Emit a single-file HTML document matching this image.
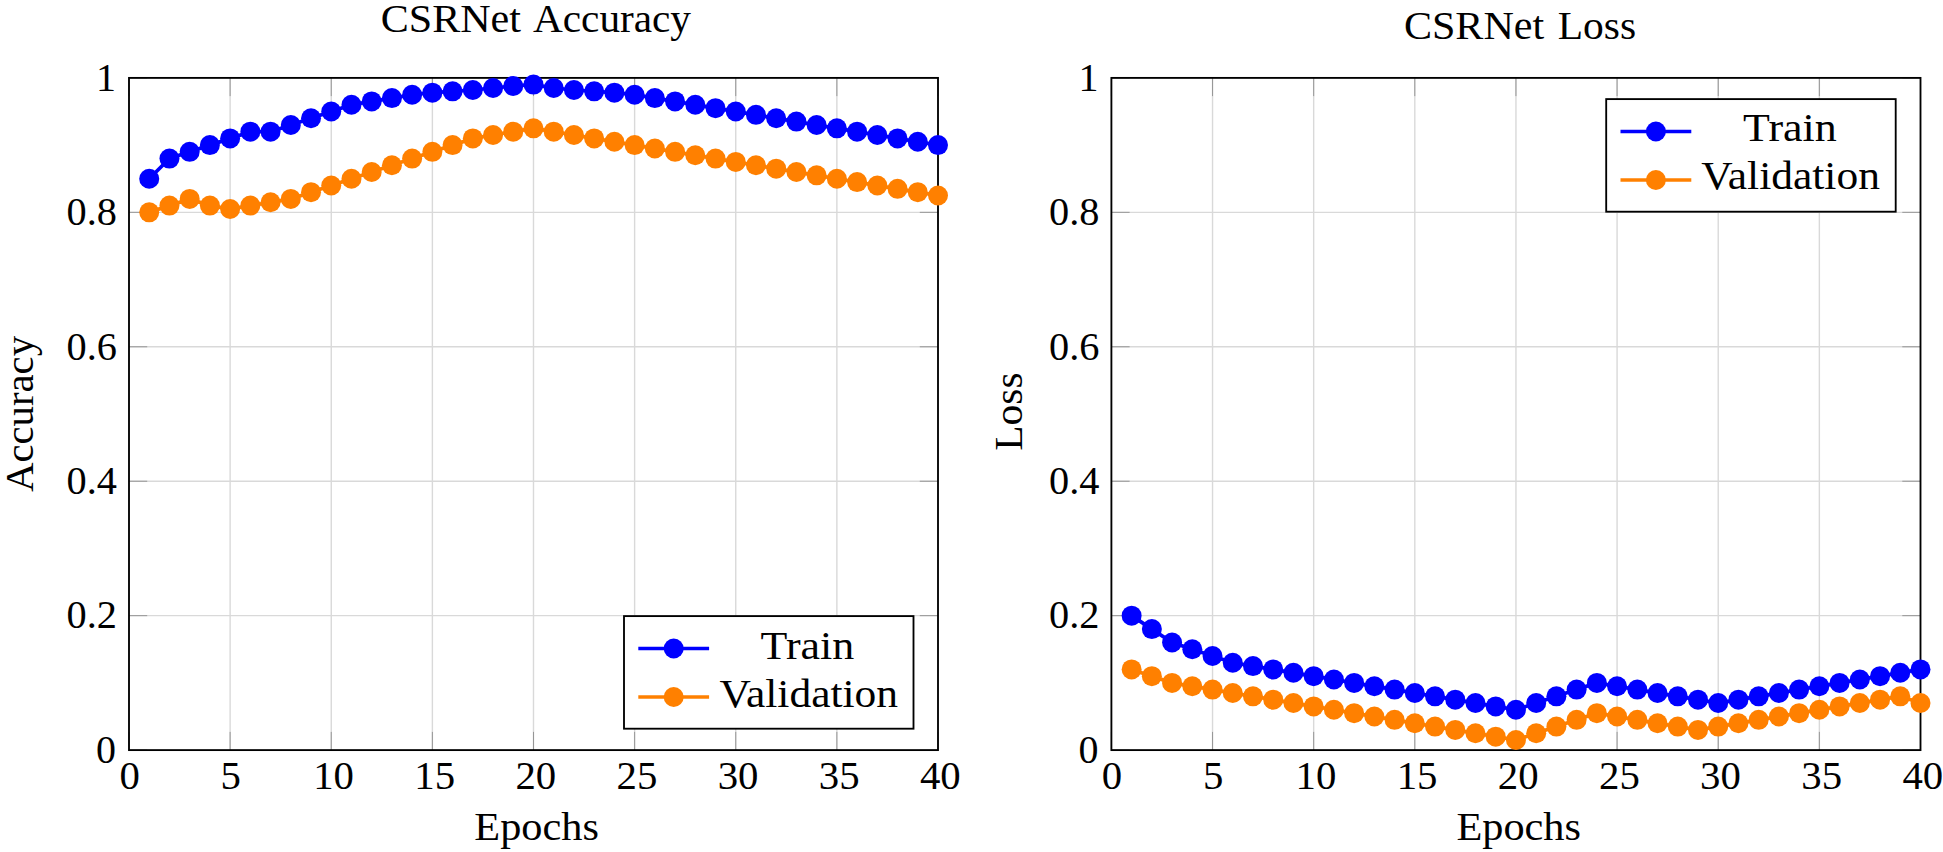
<!DOCTYPE html>
<html lang="en">
<head>
<meta charset="utf-8">
<title>CSRNet Accuracy and Loss</title>
<style>
html,body{margin:0;padding:0;background:#fff;}
body{width:1943px;height:852px;overflow:hidden;}
svg{display:block;font-family:'Liberation Serif', serif;fill:#000;}
</style>
</head>
<body>
<svg width="1943" height="852" viewBox="0 0 1943 852">
<rect width="1943" height="852" fill="#fff"/>
<g>
<path d="M230.12 77.9V750.1M331.25 77.9V750.1M432.38 77.9V750.1M533.5 77.9V750.1M634.62 77.9V750.1M735.75 77.9V750.1M836.88 77.9V750.1M129 615.66H938M129 481.22H938M129 346.78H938M129 212.34H938" stroke="#d9d9d9" stroke-width="1.4" fill="none"/>
<path d="M129 750.1v-18.2M129 77.9v18.2M230.12 750.1v-18.2M230.12 77.9v18.2M331.25 750.1v-18.2M331.25 77.9v18.2M432.38 750.1v-18.2M432.38 77.9v18.2M533.5 750.1v-18.2M533.5 77.9v18.2M634.62 750.1v-18.2M634.62 77.9v18.2M735.75 750.1v-18.2M735.75 77.9v18.2M836.88 750.1v-18.2M836.88 77.9v18.2M938 750.1v-18.2M938 77.9v18.2M129 750.1h18.2M938 750.1h-18.2M129 615.66h18.2M938 615.66h-18.2M129 481.22h18.2M938 481.22h-18.2M129 346.78h18.2M938 346.78h-18.2M129 212.34h18.2M938 212.34h-18.2M129 77.9h18.2M938 77.9h-18.2" stroke="#8a8a8a" stroke-width="0.85" fill="none"/>
<rect x="129" y="77.9" width="809" height="672.2" fill="none" stroke="#000" stroke-width="1.85"/>
<polyline points="149.22,178.73 169.45,158.56 189.68,151.84 209.9,145.12 230.12,138.4 250.35,131.68 270.57,131.68 290.8,124.95 311.02,118.23 331.25,111.51 351.48,104.79 371.7,101.43 391.93,98.07 412.15,94.71 432.38,92.69 452.6,91.34 472.82,90 493.05,87.98 513.27,85.97 533.5,84.62 553.73,87.98 573.95,90 594.17,91.34 614.4,92.69 634.62,94.71 654.85,98.07 675.08,101.43 695.3,104.79 715.52,108.15 735.75,111.51 755.98,114.87 776.2,118.23 796.42,121.59 816.65,124.95 836.88,128.31 857.1,131.68 877.33,135.04 897.55,138.4 917.77,141.76 938,145.12" fill="none" stroke="#0000ff" stroke-width="3.7" stroke-linejoin="round"/>
<g fill="#0000ff">
<circle cx="149.22" cy="178.73" r="10.0"/>
<circle cx="169.45" cy="158.56" r="10.0"/>
<circle cx="189.68" cy="151.84" r="10.0"/>
<circle cx="209.9" cy="145.12" r="10.0"/>
<circle cx="230.12" cy="138.4" r="10.0"/>
<circle cx="250.35" cy="131.68" r="10.0"/>
<circle cx="270.57" cy="131.68" r="10.0"/>
<circle cx="290.8" cy="124.95" r="10.0"/>
<circle cx="311.02" cy="118.23" r="10.0"/>
<circle cx="331.25" cy="111.51" r="10.0"/>
<circle cx="351.48" cy="104.79" r="10.0"/>
<circle cx="371.7" cy="101.43" r="10.0"/>
<circle cx="391.93" cy="98.07" r="10.0"/>
<circle cx="412.15" cy="94.71" r="10.0"/>
<circle cx="432.38" cy="92.69" r="10.0"/>
<circle cx="452.6" cy="91.34" r="10.0"/>
<circle cx="472.82" cy="90" r="10.0"/>
<circle cx="493.05" cy="87.98" r="10.0"/>
<circle cx="513.27" cy="85.97" r="10.0"/>
<circle cx="533.5" cy="84.62" r="10.0"/>
<circle cx="553.73" cy="87.98" r="10.0"/>
<circle cx="573.95" cy="90" r="10.0"/>
<circle cx="594.17" cy="91.34" r="10.0"/>
<circle cx="614.4" cy="92.69" r="10.0"/>
<circle cx="634.62" cy="94.71" r="10.0"/>
<circle cx="654.85" cy="98.07" r="10.0"/>
<circle cx="675.08" cy="101.43" r="10.0"/>
<circle cx="695.3" cy="104.79" r="10.0"/>
<circle cx="715.52" cy="108.15" r="10.0"/>
<circle cx="735.75" cy="111.51" r="10.0"/>
<circle cx="755.98" cy="114.87" r="10.0"/>
<circle cx="776.2" cy="118.23" r="10.0"/>
<circle cx="796.42" cy="121.59" r="10.0"/>
<circle cx="816.65" cy="124.95" r="10.0"/>
<circle cx="836.88" cy="128.31" r="10.0"/>
<circle cx="857.1" cy="131.68" r="10.0"/>
<circle cx="877.33" cy="135.04" r="10.0"/>
<circle cx="897.55" cy="138.4" r="10.0"/>
<circle cx="917.77" cy="141.76" r="10.0"/>
<circle cx="938" cy="145.12" r="10.0"/>
</g>
<polyline points="149.22,212.34 169.45,205.62 189.68,198.9 209.9,205.62 230.12,208.98 250.35,205.62 270.57,202.26 290.8,198.9 311.02,192.17 331.25,185.45 351.48,178.73 371.7,172.01 391.93,165.29 412.15,158.56 432.38,151.84 452.6,145.12 472.82,138.4 493.05,135.04 513.27,131.68 533.5,128.31 553.73,131.68 573.95,135.04 594.17,138.4 614.4,141.76 634.62,145.12 654.85,148.48 675.08,151.84 695.3,155.2 715.52,158.56 735.75,161.92 755.98,165.29 776.2,168.65 796.42,172.01 816.65,175.37 836.88,178.73 857.1,182.09 877.33,185.45 897.55,188.81 917.77,192.17 938,195.53" fill="none" stroke="#ff8000" stroke-width="3.7" stroke-linejoin="round"/>
<g fill="#ff8000">
<circle cx="149.22" cy="212.34" r="10.0"/>
<circle cx="169.45" cy="205.62" r="10.0"/>
<circle cx="189.68" cy="198.9" r="10.0"/>
<circle cx="209.9" cy="205.62" r="10.0"/>
<circle cx="230.12" cy="208.98" r="10.0"/>
<circle cx="250.35" cy="205.62" r="10.0"/>
<circle cx="270.57" cy="202.26" r="10.0"/>
<circle cx="290.8" cy="198.9" r="10.0"/>
<circle cx="311.02" cy="192.17" r="10.0"/>
<circle cx="331.25" cy="185.45" r="10.0"/>
<circle cx="351.48" cy="178.73" r="10.0"/>
<circle cx="371.7" cy="172.01" r="10.0"/>
<circle cx="391.93" cy="165.29" r="10.0"/>
<circle cx="412.15" cy="158.56" r="10.0"/>
<circle cx="432.38" cy="151.84" r="10.0"/>
<circle cx="452.6" cy="145.12" r="10.0"/>
<circle cx="472.82" cy="138.4" r="10.0"/>
<circle cx="493.05" cy="135.04" r="10.0"/>
<circle cx="513.27" cy="131.68" r="10.0"/>
<circle cx="533.5" cy="128.31" r="10.0"/>
<circle cx="553.73" cy="131.68" r="10.0"/>
<circle cx="573.95" cy="135.04" r="10.0"/>
<circle cx="594.17" cy="138.4" r="10.0"/>
<circle cx="614.4" cy="141.76" r="10.0"/>
<circle cx="634.62" cy="145.12" r="10.0"/>
<circle cx="654.85" cy="148.48" r="10.0"/>
<circle cx="675.08" cy="151.84" r="10.0"/>
<circle cx="695.3" cy="155.2" r="10.0"/>
<circle cx="715.52" cy="158.56" r="10.0"/>
<circle cx="735.75" cy="161.92" r="10.0"/>
<circle cx="755.98" cy="165.29" r="10.0"/>
<circle cx="776.2" cy="168.65" r="10.0"/>
<circle cx="796.42" cy="172.01" r="10.0"/>
<circle cx="816.65" cy="175.37" r="10.0"/>
<circle cx="836.88" cy="178.73" r="10.0"/>
<circle cx="857.1" cy="182.09" r="10.0"/>
<circle cx="877.33" cy="185.45" r="10.0"/>
<circle cx="897.55" cy="188.81" r="10.0"/>
<circle cx="917.77" cy="192.17" r="10.0"/>
<circle cx="938" cy="195.53" r="10.0"/>
</g>
<rect x="624" y="616.1" width="289.5" height="112.6" fill="#fff" stroke="#000" stroke-width="1.85"/>
<path d="M638.3 648.5h70.8" stroke="#0000ff" stroke-width="3.7" fill="none"/>
<circle cx="673.7" cy="648.5" r="10.0" fill="#0000ff"/>
<path d="M638.3 697h70.8" stroke="#ff8000" stroke-width="3.7" fill="none"/>
<circle cx="673.7" cy="697" r="10.0" fill="#ff8000"/>
<g font-size="39.2" text-anchor="middle">
<text x="129.6" y="789.0" textLength="20.4" lengthAdjust="spacingAndGlyphs">0</text>
<text x="230.72" y="789.0" textLength="20.4" lengthAdjust="spacingAndGlyphs">5</text>
<text x="333.55" y="789.0" textLength="40.8" lengthAdjust="spacingAndGlyphs">10</text>
<text x="434.68" y="789.0" textLength="40.8" lengthAdjust="spacingAndGlyphs">15</text>
<text x="535.8" y="789.0" textLength="40.8" lengthAdjust="spacingAndGlyphs">20</text>
<text x="636.92" y="789.0" textLength="40.8" lengthAdjust="spacingAndGlyphs">25</text>
<text x="738.05" y="789.0" textLength="40.8" lengthAdjust="spacingAndGlyphs">30</text>
<text x="839.17" y="789.0" textLength="40.8" lengthAdjust="spacingAndGlyphs">35</text>
<text x="940.3" y="789.0" textLength="40.8" lengthAdjust="spacingAndGlyphs">40</text>
</g>
<g font-size="39.2" text-anchor="end">
<text x="116.1" y="762.9" textLength="20" lengthAdjust="spacingAndGlyphs">0</text>
<text x="117" y="628.46" textLength="50.4" lengthAdjust="spacingAndGlyphs">0.2</text>
<text x="117" y="494.02" textLength="50.4" lengthAdjust="spacingAndGlyphs">0.4</text>
<text x="117" y="359.58" textLength="50.4" lengthAdjust="spacingAndGlyphs">0.6</text>
<text x="117" y="225.14" textLength="50.4" lengthAdjust="spacingAndGlyphs">0.8</text>
<text x="116.1" y="90.7" textLength="20" lengthAdjust="spacingAndGlyphs">1</text>
</g>
<text x="380.7" y="32.4" font-size="41.0" textLength="140.3" lengthAdjust="spacingAndGlyphs">CSRNet</text>
<text x="533" y="32.4" font-size="39.6" textLength="158" lengthAdjust="spacingAndGlyphs">Accuracy</text>
<text x="474.3" y="840.4" font-size="39.6" textLength="124.6" lengthAdjust="spacingAndGlyphs">Epochs</text>
<text transform="translate(32.5 492) rotate(-90)" font-size="39.6" textLength="156" lengthAdjust="spacingAndGlyphs">Accuracy</text>
<text x="760.6" y="658.8" font-size="39.6" textLength="93.6" lengthAdjust="spacingAndGlyphs">Train</text>
<text x="719.4" y="706.7" font-size="39.6" textLength="178.7" lengthAdjust="spacingAndGlyphs">Validation</text>
</g>
<g>
<path d="M1212.54 77.9V750.1M1313.68 77.9V750.1M1414.81 77.9V750.1M1515.95 77.9V750.1M1617.09 77.9V750.1M1718.22 77.9V750.1M1819.36 77.9V750.1M1111.4 615.66H1920.5M1111.4 481.22H1920.5M1111.4 346.78H1920.5M1111.4 212.34H1920.5" stroke="#d9d9d9" stroke-width="1.4" fill="none"/>
<path d="M1111.4 750.1v-18.2M1111.4 77.9v18.2M1212.54 750.1v-18.2M1212.54 77.9v18.2M1313.68 750.1v-18.2M1313.68 77.9v18.2M1414.81 750.1v-18.2M1414.81 77.9v18.2M1515.95 750.1v-18.2M1515.95 77.9v18.2M1617.09 750.1v-18.2M1617.09 77.9v18.2M1718.22 750.1v-18.2M1718.22 77.9v18.2M1819.36 750.1v-18.2M1819.36 77.9v18.2M1920.5 750.1v-18.2M1920.5 77.9v18.2M1111.4 750.1h18.2M1920.5 750.1h-18.2M1111.4 615.66h18.2M1920.5 615.66h-18.2M1111.4 481.22h18.2M1920.5 481.22h-18.2M1111.4 346.78h18.2M1920.5 346.78h-18.2M1111.4 212.34h18.2M1920.5 212.34h-18.2M1111.4 77.9h18.2M1920.5 77.9h-18.2" stroke="#8a8a8a" stroke-width="0.85" fill="none"/>
<rect x="1111.4" y="77.9" width="809.1" height="672.2" fill="none" stroke="#000" stroke-width="1.85"/>
<polyline points="1131.63,615.66 1151.86,629.1 1172.08,642.55 1192.31,649.27 1212.54,655.99 1232.77,662.71 1252.99,666.08 1273.22,669.44 1293.45,672.8 1313.68,676.16 1333.9,679.52 1354.13,682.88 1374.36,686.24 1394.59,689.6 1414.81,692.96 1435.04,696.32 1455.27,699.69 1475.5,703.05 1495.72,706.41 1515.95,709.77 1536.18,703.05 1556.41,696.32 1576.63,689.6 1596.86,682.88 1617.09,686.24 1637.32,689.6 1657.54,692.96 1677.77,696.32 1698,699.69 1718.22,703.05 1738.45,699.69 1758.68,696.32 1778.91,692.96 1799.13,689.6 1819.36,686.24 1839.59,682.88 1859.82,679.52 1880.05,676.16 1900.27,672.8 1920.5,669.44" fill="none" stroke="#0000ff" stroke-width="3.7" stroke-linejoin="round"/>
<g fill="#0000ff">
<circle cx="1131.63" cy="615.66" r="10.0"/>
<circle cx="1151.86" cy="629.1" r="10.0"/>
<circle cx="1172.08" cy="642.55" r="10.0"/>
<circle cx="1192.31" cy="649.27" r="10.0"/>
<circle cx="1212.54" cy="655.99" r="10.0"/>
<circle cx="1232.77" cy="662.71" r="10.0"/>
<circle cx="1252.99" cy="666.08" r="10.0"/>
<circle cx="1273.22" cy="669.44" r="10.0"/>
<circle cx="1293.45" cy="672.8" r="10.0"/>
<circle cx="1313.68" cy="676.16" r="10.0"/>
<circle cx="1333.9" cy="679.52" r="10.0"/>
<circle cx="1354.13" cy="682.88" r="10.0"/>
<circle cx="1374.36" cy="686.24" r="10.0"/>
<circle cx="1394.59" cy="689.6" r="10.0"/>
<circle cx="1414.81" cy="692.96" r="10.0"/>
<circle cx="1435.04" cy="696.32" r="10.0"/>
<circle cx="1455.27" cy="699.69" r="10.0"/>
<circle cx="1475.5" cy="703.05" r="10.0"/>
<circle cx="1495.72" cy="706.41" r="10.0"/>
<circle cx="1515.95" cy="709.77" r="10.0"/>
<circle cx="1536.18" cy="703.05" r="10.0"/>
<circle cx="1556.41" cy="696.32" r="10.0"/>
<circle cx="1576.63" cy="689.6" r="10.0"/>
<circle cx="1596.86" cy="682.88" r="10.0"/>
<circle cx="1617.09" cy="686.24" r="10.0"/>
<circle cx="1637.32" cy="689.6" r="10.0"/>
<circle cx="1657.54" cy="692.96" r="10.0"/>
<circle cx="1677.77" cy="696.32" r="10.0"/>
<circle cx="1698" cy="699.69" r="10.0"/>
<circle cx="1718.22" cy="703.05" r="10.0"/>
<circle cx="1738.45" cy="699.69" r="10.0"/>
<circle cx="1758.68" cy="696.32" r="10.0"/>
<circle cx="1778.91" cy="692.96" r="10.0"/>
<circle cx="1799.13" cy="689.6" r="10.0"/>
<circle cx="1819.36" cy="686.24" r="10.0"/>
<circle cx="1839.59" cy="682.88" r="10.0"/>
<circle cx="1859.82" cy="679.52" r="10.0"/>
<circle cx="1880.05" cy="676.16" r="10.0"/>
<circle cx="1900.27" cy="672.8" r="10.0"/>
<circle cx="1920.5" cy="669.44" r="10.0"/>
</g>
<polyline points="1131.63,669.44 1151.86,676.16 1172.08,682.88 1192.31,686.24 1212.54,689.6 1232.77,692.96 1252.99,696.32 1273.22,699.69 1293.45,703.05 1313.68,706.41 1333.9,709.77 1354.13,713.13 1374.36,716.49 1394.59,719.85 1414.81,723.21 1435.04,726.57 1455.27,729.93 1475.5,733.3 1495.72,736.66 1515.95,740.02 1536.18,733.3 1556.41,726.57 1576.63,719.85 1596.86,713.13 1617.09,716.49 1637.32,719.85 1657.54,723.21 1677.77,726.57 1698,729.93 1718.22,726.57 1738.45,723.21 1758.68,719.85 1778.91,716.49 1799.13,713.13 1819.36,709.77 1839.59,706.41 1859.82,703.05 1880.05,699.69 1900.27,696.32 1920.5,703.05" fill="none" stroke="#ff8000" stroke-width="3.7" stroke-linejoin="round"/>
<g fill="#ff8000">
<circle cx="1131.63" cy="669.44" r="10.0"/>
<circle cx="1151.86" cy="676.16" r="10.0"/>
<circle cx="1172.08" cy="682.88" r="10.0"/>
<circle cx="1192.31" cy="686.24" r="10.0"/>
<circle cx="1212.54" cy="689.6" r="10.0"/>
<circle cx="1232.77" cy="692.96" r="10.0"/>
<circle cx="1252.99" cy="696.32" r="10.0"/>
<circle cx="1273.22" cy="699.69" r="10.0"/>
<circle cx="1293.45" cy="703.05" r="10.0"/>
<circle cx="1313.68" cy="706.41" r="10.0"/>
<circle cx="1333.9" cy="709.77" r="10.0"/>
<circle cx="1354.13" cy="713.13" r="10.0"/>
<circle cx="1374.36" cy="716.49" r="10.0"/>
<circle cx="1394.59" cy="719.85" r="10.0"/>
<circle cx="1414.81" cy="723.21" r="10.0"/>
<circle cx="1435.04" cy="726.57" r="10.0"/>
<circle cx="1455.27" cy="729.93" r="10.0"/>
<circle cx="1475.5" cy="733.3" r="10.0"/>
<circle cx="1495.72" cy="736.66" r="10.0"/>
<circle cx="1515.95" cy="740.02" r="10.0"/>
<circle cx="1536.18" cy="733.3" r="10.0"/>
<circle cx="1556.41" cy="726.57" r="10.0"/>
<circle cx="1576.63" cy="719.85" r="10.0"/>
<circle cx="1596.86" cy="713.13" r="10.0"/>
<circle cx="1617.09" cy="716.49" r="10.0"/>
<circle cx="1637.32" cy="719.85" r="10.0"/>
<circle cx="1657.54" cy="723.21" r="10.0"/>
<circle cx="1677.77" cy="726.57" r="10.0"/>
<circle cx="1698" cy="729.93" r="10.0"/>
<circle cx="1718.22" cy="726.57" r="10.0"/>
<circle cx="1738.45" cy="723.21" r="10.0"/>
<circle cx="1758.68" cy="719.85" r="10.0"/>
<circle cx="1778.91" cy="716.49" r="10.0"/>
<circle cx="1799.13" cy="713.13" r="10.0"/>
<circle cx="1819.36" cy="709.77" r="10.0"/>
<circle cx="1839.59" cy="706.41" r="10.0"/>
<circle cx="1859.82" cy="703.05" r="10.0"/>
<circle cx="1880.05" cy="699.69" r="10.0"/>
<circle cx="1900.27" cy="696.32" r="10.0"/>
<circle cx="1920.5" cy="703.05" r="10.0"/>
</g>
<rect x="1606.2" y="99.1" width="289.5" height="112.6" fill="#fff" stroke="#000" stroke-width="1.85"/>
<path d="M1620.5 131.5h70.8" stroke="#0000ff" stroke-width="3.7" fill="none"/>
<circle cx="1655.9" cy="131.5" r="10.0" fill="#0000ff"/>
<path d="M1620.5 180h70.8" stroke="#ff8000" stroke-width="3.7" fill="none"/>
<circle cx="1655.9" cy="180" r="10.0" fill="#ff8000"/>
<g font-size="39.2" text-anchor="middle">
<text x="1112" y="789.0" textLength="20.4" lengthAdjust="spacingAndGlyphs">0</text>
<text x="1213.14" y="789.0" textLength="20.4" lengthAdjust="spacingAndGlyphs">5</text>
<text x="1315.98" y="789.0" textLength="40.8" lengthAdjust="spacingAndGlyphs">10</text>
<text x="1417.11" y="789.0" textLength="40.8" lengthAdjust="spacingAndGlyphs">15</text>
<text x="1518.25" y="789.0" textLength="40.8" lengthAdjust="spacingAndGlyphs">20</text>
<text x="1619.39" y="789.0" textLength="40.8" lengthAdjust="spacingAndGlyphs">25</text>
<text x="1720.52" y="789.0" textLength="40.8" lengthAdjust="spacingAndGlyphs">30</text>
<text x="1821.66" y="789.0" textLength="40.8" lengthAdjust="spacingAndGlyphs">35</text>
<text x="1922.8" y="789.0" textLength="40.8" lengthAdjust="spacingAndGlyphs">40</text>
</g>
<g font-size="39.2" text-anchor="end">
<text x="1098.5" y="762.9" textLength="20" lengthAdjust="spacingAndGlyphs">0</text>
<text x="1099.4" y="628.46" textLength="50.4" lengthAdjust="spacingAndGlyphs">0.2</text>
<text x="1099.4" y="494.02" textLength="50.4" lengthAdjust="spacingAndGlyphs">0.4</text>
<text x="1099.4" y="359.58" textLength="50.4" lengthAdjust="spacingAndGlyphs">0.6</text>
<text x="1099.4" y="225.14" textLength="50.4" lengthAdjust="spacingAndGlyphs">0.8</text>
<text x="1098.5" y="90.7" textLength="20" lengthAdjust="spacingAndGlyphs">1</text>
</g>
<text x="1403.9" y="38.9" font-size="41.0" textLength="140.3" lengthAdjust="spacingAndGlyphs">CSRNet</text>
<text x="1557.74" y="38.9" font-size="39.6" textLength="78.4" lengthAdjust="spacingAndGlyphs">Loss</text>
<text x="1456.4" y="840.4" font-size="39.6" textLength="124.6" lengthAdjust="spacingAndGlyphs">Epochs</text>
<text transform="translate(1022.2 450.76) rotate(-90)" font-size="39.6" textLength="78.3" lengthAdjust="spacingAndGlyphs">Loss</text>
<text x="1743.1" y="141.3" font-size="39.6" textLength="93.6" lengthAdjust="spacingAndGlyphs">Train</text>
<text x="1701.2" y="189.3" font-size="39.6" textLength="178.7" lengthAdjust="spacingAndGlyphs">Validation</text>
</g>
</svg>
</body>
</html>
